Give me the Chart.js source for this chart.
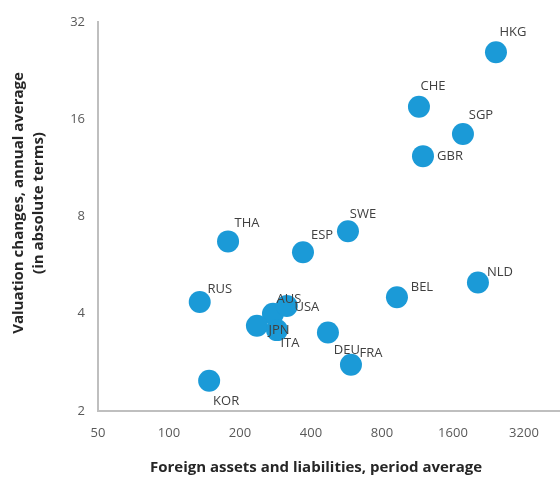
<!DOCTYPE html>
<html lang="en">
<head>
    <meta charset="UTF-8">
    <title>Valuation changes vs foreign assets and liabilities</title>
    <script src="https://cdn.jsdelivr.net/npm/chart.js"></script>
    <style>
        html, body {
            margin: 0;
            padding: 0;
            background: #ffffff;
        }

        .chart-box {
            width: 560px;
            height: 481px;
        }
    </style>
</head>
<body>
    <div class="chart-box">
        <canvas id="scatterChart" width="560" height="481"></canvas>
    </div>

    <script>
        // Country codes and their values
        const countries = ['HKG', 'CHE', 'SGP', 'GBR', 'SWE', 'ESP', 'THA', 'RUS', 'KOR',
                           'BEL', 'NLD', 'DEU', 'FRA', 'AUS', 'USA', 'JPN', 'ITA'];
        const foreignAssets = [2435, 1148, 1764, 1194, 574, 370, 178, 135, 148,
                               926, 2042, 472, 591, 276, 316, 236, 287];
        const valuationChanges = [25.8, 17.5, 14.4, 12.3, 7.2, 6.2, 6.7, 4.35, 2.48,
                                  4.5, 5.0, 3.5, 2.78, 4.0, 4.23, 3.67, 3.56];

        // Axis ticks (powers of two)
        const xTicks = [50, 100, 200, 400, 800, 1600, 3200];
        const yTicks = [2, 4, 8, 16, 32];

        // where each country label sits relative to its dot
        const labelOffsets = {
            HKG: [17, -20], CHE: [14, -20], SGP: [18, -19], GBR: [27, 0],
            SWE: [15, -17], ESP: [19, -17], THA: [19, -18], RUS: [20, -13],
            KOR: [17, 20], BEL: [25, -10], NLD: [22, -10], DEU: [19, 18],
            FRA: [20, -12], AUS: [16, -14], USA: [20, 1], JPN: [22, 4], ITA: [13, 13]
        };

        const points = countries.map((c, i) => ({ x: foreignAssets[i], y: valuationChanges[i], code: c }));

        const textFont = "'Open Sans', 'Noto Sans', sans-serif";

        // country code next to each dot
        const pointLabels = {
            id: 'pointLabels',
            afterDatasetsDraw(chart) {
                const ctx = chart.ctx;
                const meta = chart.getDatasetMeta(0);
                ctx.save();
                ctx.font = '13px ' + textFont;
                ctx.fillStyle = '#404040';
                ctx.textAlign = 'center';
                ctx.textBaseline = 'middle';
                meta.data.forEach((el, i) => {
                    const off = labelOffsets[countries[i]] || [15, -15];
                    ctx.fillText(countries[i], el.x + off[0], el.y + off[1]);
                });
                ctx.restore();
            }
        };

        // axis titles
        const axisTitles = {
            id: 'axisTitles',
            afterDraw(chart) {
                const ctx = chart.ctx;
                ctx.save();
                ctx.fillStyle = '#262626';
                ctx.font = 'bold 15px ' + textFont;
                ctx.textAlign = 'center';
                ctx.textBaseline = 'middle';
                ctx.fillText('Foreign assets and liabilities, period average', 316, 468);

                ctx.translate(0, 203);
                ctx.rotate(-Math.PI / 2);
                ctx.fillText('Valuation changes, annual average', 0, 19);
                ctx.fillText('(in absolute terms)', 0, 39);
                ctx.restore();
            }
        };

        const ctx = document.getElementById('scatterChart').getContext('2d');
        new Chart(ctx, {
            type: 'scatter',
            data: {
                datasets: [{
                    label: 'Countries',
                    data: points,
                    backgroundColor: '#1b9ad7',
                    borderColor: '#1b9ad7',
                    borderWidth: 0,
                    pointRadius: 11,
                    pointHoverRadius: 11
                }]
            },
            options: {
                responsive: false,
                animation: false,
                layout: {
                    autoPadding: false,
                    padding: { top: 22, right: 0, left: 0, bottom: 0 }
                },
                plugins: {
                    legend: { display: false },
                    tooltip: { enabled: false }
                },
                scales: {
                    x: {
                        type: 'logarithmic',
                        min: 50,
                        max: 4550,
                        afterBuildTicks: (scale) => {
                            scale.ticks = xTicks.map(v => ({ value: v }));
                        },
                        afterFit: (scale) => {
                            scale.height = 70;
                        },
                        grid: { display: false, drawTicks: false },
                        border: { display: true, color: '#bfbfbf', width: 2 },
                        ticks: {
                            padding: 14,
                            color: '#595959',
                            font: { family: textFont, size: 13 },
                            autoSkip: false,
                            maxRotation: 0,
                            callback: (v) => String(v)
                        }
                    },
                    y: {
                        type: 'logarithmic',
                        min: 2,
                        max: 32,
                        afterBuildTicks: (scale) => {
                            scale.ticks = yTicks.map(v => ({ value: v }));
                        },
                        afterFit: (scale) => {
                            scale.width = 98;
                        },
                        grid: { display: false, drawTicks: false },
                        border: { display: true, color: '#bfbfbf', width: 2 },
                        ticks: {
                            padding: 13,
                            color: '#595959',
                            font: { family: textFont, size: 13 },
                            autoSkip: false,
                            callback: (v) => String(v)
                        }
                    }
                }
            },
            plugins: [pointLabels, axisTitles]
        });
    </script>
</body>
</html>
